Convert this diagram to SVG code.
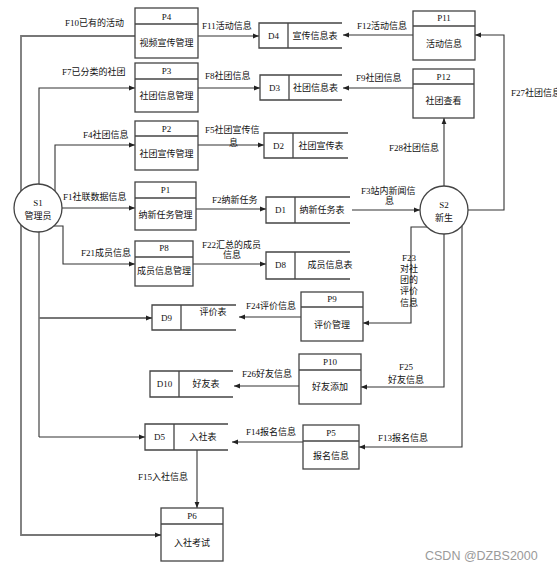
<svg xmlns="http://www.w3.org/2000/svg" width="557" height="571" viewBox="0 0 557 571">
<style>
text{font-family:"Liberation Serif","Noto Sans CJK SC",serif;font-size:9px;fill:#111}
.m{text-anchor:middle}
.b{fill:#fff;stroke:#444;stroke-width:1.3}
.s{fill:none;stroke:#444;stroke-width:1.3}
.c{fill:none;stroke:#333;stroke-width:1.1}
.g{fill:none;stroke:#777;stroke-width:1.8}
.wm{font-family:"Liberation Sans",Arial,sans-serif;font-size:12.5px;fill:#9a9a9a}
</style>
<defs>
<marker id="a" viewBox="0 0 10 10" refX="10" refY="5" markerWidth="6" markerHeight="6" markerUnits="userSpaceOnUse" orient="auto"><path d="M0,1 L10,5 L0,9z" fill="#222"/></marker>
</defs>
<rect width="557" height="571" fill="#fff"/>
<g id="connectors">
<path class="g" d="M135,36 H21 V535 H161" marker-end="url(#a)"/>
<path class="c" d="M39,437 V88 H135" marker-end="url(#a)"/>
<path class="g" d="M39,318 H152" marker-end="url(#a)"/>
<path class="c" d="M39,437 H145" marker-end="url(#a)"/>
<path class="c" d="M55,191 V145 H135" marker-end="url(#a)"/>
<path class="c" d="M62,208 H135" marker-end="url(#a)"/>
<path class="c" d="M54,226 H63 V264 H135" marker-end="url(#a)"/>
<path class="c" d="M198,36 H259" marker-end="url(#a)"/>
<path class="c" d="M198,88 H260" marker-end="url(#a)"/>
<path class="c" d="M198,145 H264" marker-end="url(#a)"/>
<path class="c" d="M196,209 H266" marker-end="url(#a)"/>
<path class="c" d="M193,264 H266" marker-end="url(#a)"/>
<path class="c" d="M413,35 H343" marker-end="url(#a)"/>
<path class="c" d="M413,88 H343" marker-end="url(#a)"/>
<path class="c" d="M468,210 H504 V35 H475" marker-end="url(#a)"/>
<path class="c" d="M444,186 V118" marker-end="url(#a)"/>
<path class="c" d="M352,210 H420" marker-end="url(#a)"/>
<path class="c" d="M427,227 H411 V323 H363" marker-end="url(#a)"/>
<path class="c" d="M444,234 V387 H361" marker-end="url(#a)"/>
<path class="c" d="M462,226 V447 H359" marker-end="url(#a)"/>
<path class="c" d="M301,317 H239" marker-end="url(#a)"/>
<path class="c" d="M299,386 H234" marker-end="url(#a)"/>
<path class="c" d="M303,442 H232" marker-end="url(#a)"/>
<path class="c" d="M197,450 V508" marker-end="url(#a)"/>
</g>
<g id="labels">
<text x="65" y="26">F10已有的活动</text>
<text x="202" y="29">F11活动信息</text>
<text x="357" y="29">F12活动信息</text>
<text x="62" y="75">F7已分类的社团</text>
<text x="205" y="79">F8社团信息</text>
<text x="356" y="81">F9社团信息</text>
<text x="511" y="96">F27社团信息</text>
<text x="83" y="138">F4社团信息</text>
<text x="205" y="133">F5社团宣传信</text>
<text x="229" y="146">息</text>
<text x="389" y="151">F28社团信息</text>
<text x="63" y="200">F1社联数据信息</text>
<text x="212" y="203">F2纳新任务</text>
<text x="361" y="194">F3站内新闻信</text>
<text x="385" y="204">息</text>
<text x="81" y="256">F21成员信息</text>
<text x="202" y="248">F22汇总的成员</text>
<text x="223" y="258">信息</text>
<text class="m" x="409" y="261">F23</text>
<text class="m" x="409" y="272">对社</text>
<text class="m" x="409" y="283">团的</text>
<text class="m" x="409" y="294">评价</text>
<text class="m" x="409" y="306">信息</text>
<text x="246" y="309">F24评价信息</text>
<text x="242" y="377">F26好友信息</text>
<text x="399" y="370">F25</text>
<text x="388" y="383">好友信息</text>
<text x="246" y="435">F14报名信息</text>
<text x="378" y="441">F13报名信息</text>
<text x="138" y="480">F15入社信息</text>
</g>
<g id="S1"><circle class="b" cx="38" cy="208" r="24"/><text class="m" x="38" y="206">S1</text><text class="m" x="38" y="219">管理员</text></g>
<g id="S2"><circle class="b" cx="444" cy="210" r="24"/><text class="m" x="444" y="208">S2</text><text class="m" x="444" y="221">新生</text></g>
<g id="P4"><rect class="b" x="135" y="8" width="63" height="50"/><path class="s" d="M135,24 H198"/><text class="m" x="166.5" y="20">P4</text><text class="m" x="166.5" y="46">视频宣传管理</text></g>
<g id="P3"><rect class="b" x="135" y="63" width="63" height="49"/><path class="s" d="M135,79 H198"/><text class="m" x="166.5" y="74">P3</text><text class="m" x="166.5" y="99">社团信息管理</text></g>
<g id="P2"><rect class="b" x="135" y="121" width="63" height="49"/><path class="s" d="M135,136 H198"/><text class="m" x="166.5" y="132">P2</text><text class="m" x="166.5" y="157">社团宣传管理</text></g>
<g id="P1"><rect class="b" x="135" y="182" width="61" height="48"/><path class="s" d="M135,198 H196"/><text class="m" x="165.5" y="193">P1</text><text class="m" x="165.5" y="218">纳新任务管理</text></g>
<g id="P8"><rect class="b" x="135" y="241" width="58" height="45"/><path class="s" d="M135,257 H193"/><text class="m" x="164" y="251">P8</text><text class="m" x="164" y="274">成员信息管理</text></g>
<g id="P11"><rect class="b" x="413" y="11" width="62" height="49"/><path class="s" d="M413,26 H475"/><text class="m" x="444" y="21">P11</text><text class="m" x="444" y="47">活动信息</text></g>
<g id="P12"><rect class="b" x="413" y="69" width="61" height="49"/><path class="s" d="M413,84 H474"/><text class="m" x="443.5" y="80">P12</text><text class="m" x="443.5" y="104">社团查看</text></g>
<g id="P9"><rect class="b" x="301" y="292" width="62" height="49"/><path class="s" d="M301,307 H363"/><text class="m" x="332" y="302">P9</text><text class="m" x="332" y="328">评价管理</text></g>
<g id="P10"><rect class="b" x="299" y="354" width="62" height="50"/><path class="s" d="M299,370 H361"/><text class="m" x="330" y="365">P10</text><text class="m" x="330" y="390">好友添加</text></g>
<g id="P5"><rect class="b" x="303" y="425" width="56" height="44"/><path class="s" d="M303,441 H359"/><text class="m" x="331" y="436">P5</text><text class="m" x="331" y="459">报名信息</text></g>
<g id="P6"><rect class="b" x="161" y="508" width="62" height="53"/><path class="s" d="M161,524 H223"/><text class="m" x="192" y="519">P6</text><text class="m" x="192" y="546">入社考试</text></g>
<g id="D4"><path class="s" d="M342,23 H259 V48 H342 M288,23 V48"/><text class="m" x="273.5" y="39">D4</text><text class="m" x="315" y="39">宣传信息表</text></g>
<g id="D3"><path class="s" d="M342,75 H260 V100 H342 M289,75 V100"/><text class="m" x="274.5" y="91">D3</text><text class="m" x="315.5" y="91">社团信息表</text></g>
<g id="D2"><path class="s" d="M348,133 H264 V158 H348 M293,133 V158"/><text class="m" x="278.5" y="149">D2</text><text class="m" x="321" y="149">社团宣传表</text></g>
<g id="D1"><path class="s" d="M350,197 H266 V223 H350 M295,197 V223"/><text class="m" x="280.5" y="213">D1</text><text class="m" x="322" y="213">纳新任务表</text></g>
<g id="D8"><path class="s" d="M350,252 H266 V279 H350 M295,252 V279"/><text class="m" x="280.5" y="268">D8</text><text class="m" x="330" y="268">成员信息表</text></g>
<g id="D9"><path class="s" d="M236,305 H152 V330 H236 M181,305 V330"/><text class="m" x="166.5" y="321">D9</text><text class="m" x="213" y="315">评价表</text></g>
<g id="D10"><path class="s" d="M233,371 H150 V397 H233 M179,371 V397"/><text class="m" x="164.5" y="387">D10</text><text class="m" x="206" y="387">好友表</text></g>
<g id="D5"><path class="s" d="M228,424 H145 V450 H228 M174,424 V450"/><text class="m" x="159.5" y="440">D5</text><text class="m" x="203" y="440">入社表</text></g>
<text class="wm" x="425" y="560">CSDN @DZBS2000</text>
</svg>
